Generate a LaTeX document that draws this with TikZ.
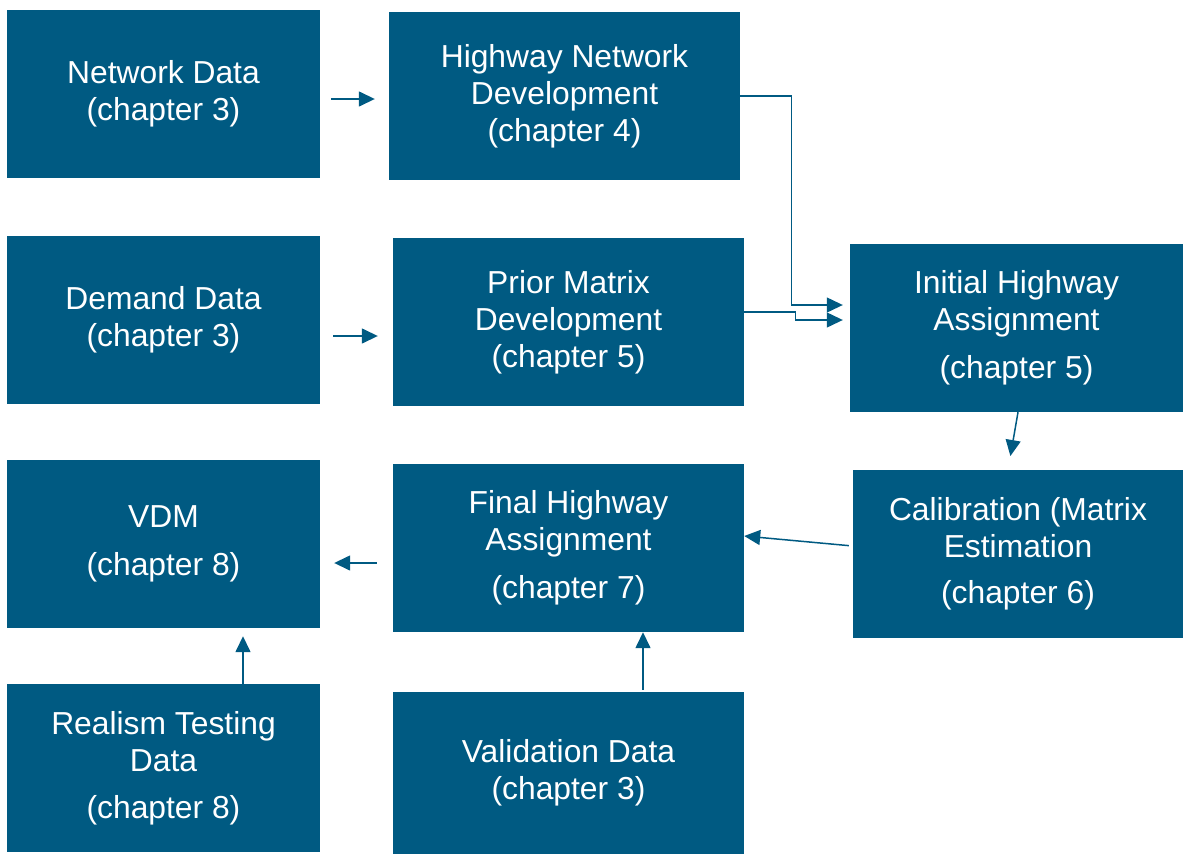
\documentclass[tikz,border=0pt]{standalone}
\usepackage{fontspec}
\setmainfont{Liberation Sans}
\usepackage{tikz}
\usetikzlibrary{arrows.meta}
\definecolor{boxblue}{RGB}{0,90,130}

\begin{document}
\begin{tikzpicture}[x=1pt,y=-1pt,
    box/.style={fill=boxblue,text=white,align=center,inner sep=0pt,
        minimum height=168pt,font=\fontsize{31.8}{37}\selectfont},
    arr/.style={draw=boxblue,line width=1.5pt,-{Triangle[length=16pt,width=15pt]}},
    elbow/.style={draw=boxblue,line width=1.2pt,-{Triangle[length=16pt,width=15pt]}}]
    \useasboundingbox (0,0) rectangle (1183,854);
    \node[box,minimum width=313pt] at (163.5,94) (net) {Network Data\\(chapter 3)};
    \node[box,minimum width=351pt] at (564.5,96) (hnd) {Highway Network\\Development\\(chapter 4)};
    \node[box,minimum width=313pt] at (163.5,320) (dem) {Demand Data\\(chapter 3)};
    \node[box,minimum width=351pt] at (568.5,322) (pmd) {Prior Matrix\\Development\\(chapter 5)};
    \node[box,minimum width=333pt] at (1016.5,328) (iha) {Initial Highway\\Assignment\\[11pt](chapter 5)};
    \node[box,minimum width=313pt] at (163.5,544) (vdm) {VDM\\[11pt](chapter 8)};
    \node[box,minimum width=351pt] at (568.5,548) (fha) {Final Highway\\Assignment\\[11pt](chapter 7)};
    \node[box,minimum width=330pt] at (1018,554) (cal) {Calibration (Matrix\\Estimation\\[9pt](chapter 6)};
    \node[box,minimum width=313pt] at (163.5,768) (rtd) {Realism Testing\\Data\\[10pt](chapter 8)};
    \node[box,minimum width=351pt,minimum height=162pt] at (568.5,773) (val) {Validation Data\\(chapter 3)};
    % connectors
    \draw[arr,shorten <=11pt,shorten >=14pt] ([yshift=-5pt]net.east) -- ([yshift=-3pt]hnd.west);
    \draw[arr,shorten <=13pt,shorten >=15pt] ([yshift=-16pt]dem.east) -- ([yshift=-14pt]pmd.west);
    \draw[elbow,shorten >=7pt] (hnd.east) -- ++(51,0) |- ([yshift=23pt]iha.west);
    \draw[elbow,shorten >=7pt] ([yshift=10pt]pmd.east) -- ++(51,0) |- ([yshift=8pt]iha.west);
    \draw[arr,shorten >=14pt] ([xshift=1.5pt]iha.south) -- ([xshift=-10pt]cal.north);
    \draw[arr,shorten <=4pt] ([yshift=8pt]cal.west) -- ([yshift=12pt]fha.east);
    \draw[arr,shorten <=16pt,shorten >=14pt] ([yshift=-15pt]fha.west) -- ([yshift=-19pt]vdm.east);
    \draw[arr,shorten <=2pt] ([xshift=74.5pt]val.north) -- ([xshift=74.5pt]fha.south);
    \draw[arr,shorten >=8pt] ([xshift=79.5pt]rtd.north) -- ([xshift=79.5pt]vdm.south);
\end{tikzpicture}
\end{document}
